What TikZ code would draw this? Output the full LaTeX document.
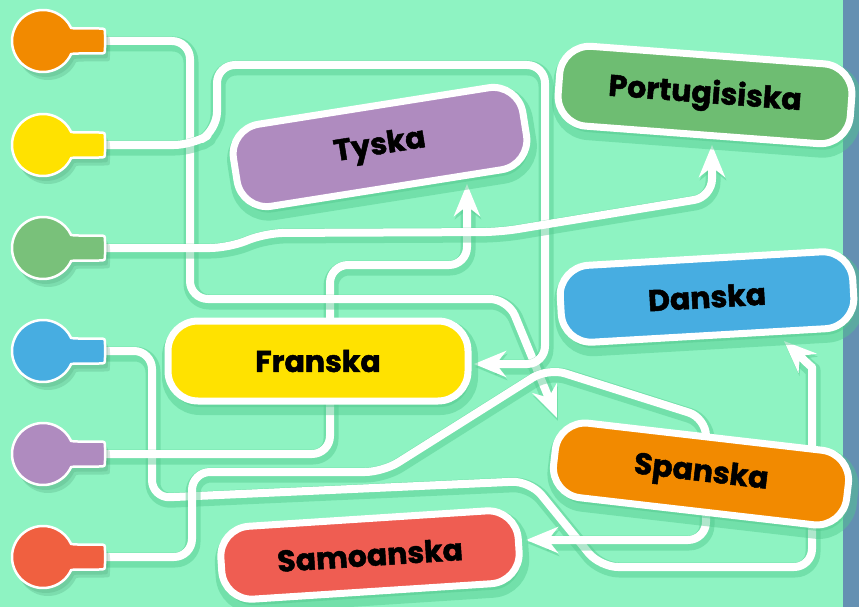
\documentclass[tikz,border=0pt]{standalone}
\usepackage{fontspec}
\setmainfont{Poppins}[BoldFeatures={FakeBold=1.6}]
\usetikzlibrary{arrows.meta}
\definecolor{bg}{HTML}{8EF3C2}
\definecolor{strip}{HTML}{6490B2}
\definecolor{shc}{HTML}{52C98E}
\definecolor{bsh}{HTML}{2F7A55}
\definecolor{corange}{HTML}{F28A00}
\definecolor{cyellow}{HTML}{FFE200}
\definecolor{cgreen}{HTML}{79C17A}
\definecolor{cblue}{HTML}{47ADE1}
\definecolor{cpurple}{HTML}{AF8BBF}
\definecolor{cred}{HTML}{F06040}
\definecolor{bgreen}{HTML}{6EBD72}
\definecolor{bred}{HTML}{EF5D52}
\newcommand\wirepath[1]{\draw[wsh] #1; \draw[wire] #1;}
\newcommand\bulbshape{(25:31) arc[start angle=25,end angle=335,radius=31] .. controls (31,-12.5) .. (36,-12.5) -- (56,-12.5) .. controls (62,-12.5) .. (62,-6.5) -- (62,6.5) .. controls (62,12.5) .. (56,12.5) -- (36,12.5) .. controls (31,12.5) .. (25:31) -- cycle}
\newcommand\mybulb[2]{%
  \begin{scope}[shift={(43,#1)}]
    \fill[bsh,opacity=.18,shift={(5,8)}] \bulbshape;
    \fill[bsh,opacity=.15,shift={(3,5)}] \bulbshape;
    \filldraw[fill=#2,draw=white,line width=2.5pt] \bulbshape;
  \end{scope}}
\begin{document}
\begin{tikzpicture}[x=1pt,y=-1pt,
  wire/.style={draw=white,line width=8pt,rounded corners=18pt,line join=round},
  wsh/.style={draw=shc,line width=15pt,rounded corners=18pt,line join=round,opacity=.45,transform canvas={shift={(1pt,-3pt)}}},
  tip/.style={-{Stealth[length=32pt,width=26pt,inset=10pt]}},
  box/.style={rectangle,rounded corners=30pt,draw=white,line width=7pt,inner sep=0pt,text=black,
    font=\bfseries\fontsize{30}{30}\selectfont,
    preaction={fill=shc,draw=shc,line width=16pt,opacity=.45,transform canvas={shift={(2pt,-6pt)}}}},
]
\useasboundingbox (0,0) rectangle (859,607);
\fill[bg] (0,0) rectangle (859,607);
\fill[strip] (843,0) rectangle (859,607);

% connector ends
\coordinate (s1) at (100,41);
\coordinate (s2) at (100,145);
\coordinate (s3) at (100,248);
\coordinate (s4) at (100,351);
\coordinate (s5) at (100,454);
\coordinate (s6) at (100,557);
\coordinate (t1) at (557,418);
\coordinate (t2) at (474,364);
\coordinate (t3) at (712,145);
\coordinate (t4) at (784,341);
\coordinate (t5) at (467,184);
\coordinate (t6) at (526,540);

% wires
\wirepath{[tip] (s4) -- (152,351) -- (152,498) -- (530,481) -- (600,567) -- (812,567) -- (812,385) .. controls (812,368) and (802,358) .. (t4)}
\wirepath{[tip] (s5) -- (330,454) -- (330,265) -- (467,265) -- (t5)}
\wirepath{[tip] (s1) -- (190,41) -- (190,299) -- (508,299) -- (t1)}
\wirepath{[tip] (s2) -- (192,145) -- (217,130) -- (217,65) -- (545,65) -- (545,364) -- (t2)}
\wirepath{[tip] (s3) -- (228,248) -- (266,233) -- (500,232) -- (712,197) -- (t3)}
\wirepath{[tip] (s6) -- (192,557) -- (192,472) -- (383,472) -- (548,368) -- (706,418) -- (706,540) -- (t6)}

% bulbs
\mybulb{41}{corange}
\mybulb{145}{cyellow}
\mybulb{248}{cgreen}
\mybulb{351}{cblue}
\mybulb{454}{cpurple}
\mybulb{557}{cred}

% boxes
\node[box,fill=cpurple,rotate=9,minimum width=293pt,minimum height=83pt] (tyska) at (380,147) {Tyska};
\node[box,fill=bgreen,rotate=-4.3,minimum width=293pt,minimum height=80pt] (port) at (705,95) {Portugisiska};
\node[box,fill=cyellow,minimum width=300pt,minimum height=80pt] (franska) at (318,361) {Franska};
\node[box,fill=cblue,rotate=3.3,minimum width=293pt,minimum height=77pt] (danska) at (707,297) {Danska};
\node[box,fill=corange,rotate=-6.6,minimum width=295pt,minimum height=75pt] (spanska) at (701,474) {Spanska};
\node[box,fill=bred,rotate=3.7,minimum width=298pt,minimum height=73pt] (samoa) at (370,555) {Samoanska};
\end{tikzpicture}
\end{document}
